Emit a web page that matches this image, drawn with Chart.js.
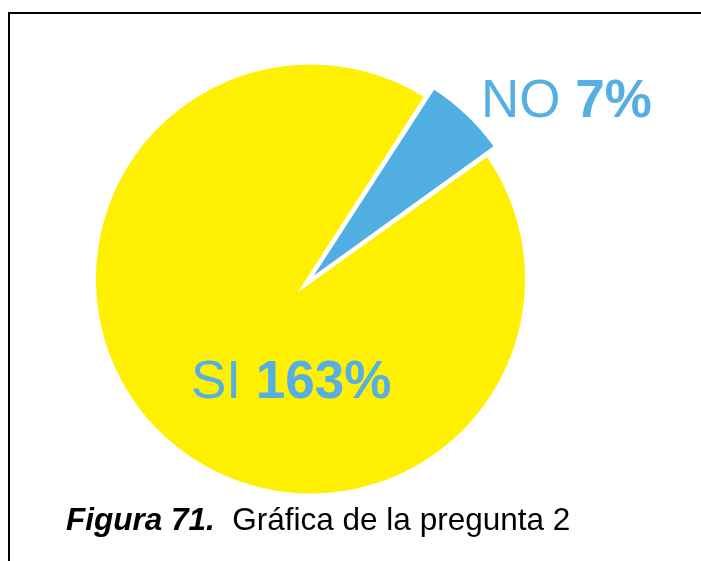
<!DOCTYPE html>
<html>
<head>
<meta charset="utf-8">
<script src="https://cdn.jsdelivr.net/npm/chart.js@4"></script>
<style>
  html, body { margin: 0; padding: 0; background: #fff; }
  body { width: 701px; height: 561px; position: relative; overflow: hidden; font-family: Arial, "Liberation Sans", sans-serif; }
  #frame { position: absolute; left: 8px; top: 12px; width: 700px; height: 560px; border-top: 2px solid #000; border-left: 2px solid #000; }
  #wrap { position: absolute; left: 0; top: 0; width: 701px; height: 561px; }
  #caption { position: absolute; left: 66px; top: 504px; font-size: 31.5px; line-height: 31px; white-space: pre; color: #000; }
  #caption b { font-style: italic; }
</style>
</head>
<body>
<div id="frame"></div>
<div id="wrap"><canvas id="pie" width="701" height="561"></canvas></div>
<div id="caption"><b>Figura 71.</b>  Gráfica de la pregunta 2</div>

<script>
// data
const categories = ['SI', 'NO'];
const sliceValues = [94, 6];
const percentLabels = ['163%', '7%'];
const sliceColors = ['#FEF000', '#50AEE2'];

// draws "SI 163%" / "NO 7%" (name regular, percent bold)
const sliceLabels = {
  id: 'sliceLabels',
  afterDraw(chart) {
    const ctx = chart.ctx;
    const spots = [
      { x: 191, y: 398 },
      { x: 481, y: 117 }
    ];
    ctx.save();
    ctx.fillStyle = '#55AFE3';
    ctx.textBaseline = 'alphabetic';
    categories.forEach((name, i) => {
      let x = spots[i].x;
      ctx.font = '53px Arial, "Liberation Sans"';
      ctx.fillText(name + ' ', x, spots[i].y);
      x += ctx.measureText(name + ' ').width;
      ctx.font = 'bold 53px Arial, "Liberation Sans"';
      ctx.fillText(percentLabels[i], x, spots[i].y);
    });
    ctx.restore();
  }
};

const ctx = document.getElementById('pie').getContext('2d');
new Chart(ctx, {
  type: 'pie',
  data: {
    labels: categories,
    datasets: [{
      data: sliceValues,
      backgroundColor: sliceColors,
      borderColor: '#ffffff',
      borderWidth: [7, 0],        // white outline only on the big slice
      borderJoinStyle: 'miter',
      offset: [0, 20]             // chart.js moves the slice by offset/4
    }]
  },
  options: {
    responsive: false,
    animation: false,
    rotation: 54.4,
    radius: 218,
    layout: { padding: { left: 0, right: 80, top: 0, bottom: 3 } },
    plugins: {
      legend: { display: false },
      tooltip: { enabled: false }
    },
    events: []
  },
  plugins: [sliceLabels]
});
</script>
</body>
</html>
